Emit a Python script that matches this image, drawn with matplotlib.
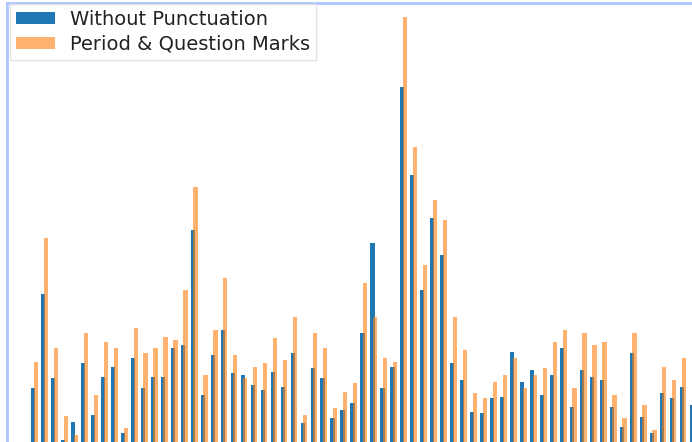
import matplotlib.pyplot as plt
import numpy as np

# word counts per sentence bucket, two preprocessing variants
without_punct = [62, 156, 72, 10, 28, 87, 35, 73, 83, 17,
                 92, 62, 73, 73, 102, 105, 220, 55, 95, 120,
                 77, 75, 65, 60, 78, 63, 97, 27, 82, 72,
                 32, 40, 47, 117, 207, 62, 83, 363, 275, 160,
                 232, 195, 87, 70, 38, 37, 52, 53, 98, 68,
                 80, 55, 75, 102, 43, 80, 73, 70, 43, 23,
                 97, 33, 17, 57, 52, 63, 45]
with_marks = [88, 212, 102, 34, 15, 117, 55, 108, 102, 22,
              122, 97, 102, 113, 110, 160, 263, 75, 120, 172,
              95, 72, 83, 87, 112, 90, 133, 35, 117, 102,
              42, 58, 67, 167, 133, 92, 88, 433, 303, 185,
              250, 230, 133, 100, 57, 52, 68, 75, 92, 62,
              75, 82, 108, 120, 62, 117, 105, 108, 55, 32,
              117, 45, 20, 83, 70, 92, 58]

x = np.arange(len(without_punct))
w = 0.42

fig = plt.figure(figsize=(6.92, 4.42), dpi=100)
# axes run past the right and bottom edges of the figure
ax = fig.add_axes([7 / 692, -8 / 442, 720 / 692, (442 - 3 + 8) / 442])

ax.bar(x, without_punct, width=w, color='#1f77b4', label='Without Punctuation')
ax.bar(x + 0.26, with_marks, width=w, color='#ff7f0e', alpha=0.6,
       label='Period & Question Marks')

ax.set_xlim(-2.63, -2.63 + 713 / 9.88)
ax.set_ylim(0, 447)
ax.set_xticks([])
ax.set_yticks([])
for side in ['right', 'bottom']:
    ax.spines[side].set_visible(False)
for side in ['top', 'left']:
    ax.spines[side].set_color('#adc4ff')
    ax.spines[side].set_linewidth(2)

leg = ax.legend(loc='upper left', bbox_to_anchor=(10 / 692, 1 - 4 / 442),
                bbox_transform=fig.transFigure, fontsize=14, handlelength=2.0,
                handleheight=0.55, labelspacing=0.3, borderpad=0.3,
                borderaxespad=0, framealpha=0.8, edgecolor='#dddddd',
                fancybox=False)
for t in leg.get_texts():
    t.set_color('#222222')

plt.savefig('out.png', dpi=100)
